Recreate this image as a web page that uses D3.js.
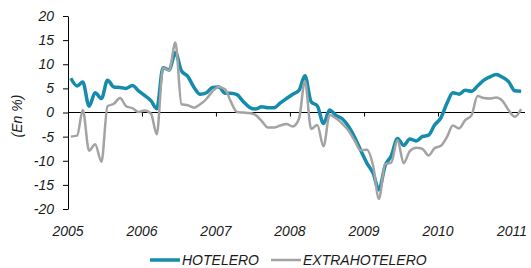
<!DOCTYPE html>
<html>
<head>
<meta charset="utf-8">
<script src="https://cdn.jsdelivr.net/npm/d3@7"></script>
<style>
  body { margin: 0; background: #fff; }
  svg text { font-family: "Liberation Sans", Arial, sans-serif; font-style: italic; fill: #1a1a1a; }
</style>
</head>
<body>
<div id="chart"></div>
<script>
// monthly series, Jan 2005 - Feb 2011
const startYear = 2005;
const hotelero = [
  7.1, 5.5, 6.3, 1.3, 4.1, 2.9, 6.7, 5.3, 5.2, 5.0, 5.6, 4.5,
  3.5, 2.4, 0.8, 9.3, 8.8, 12.4, 8.6, 7.5, 5.2, 3.8, 4.1, 5.2,
  5.3, 4.0, 4.0, 3.7, 2.3, 1.1, 0.7, 1.2, 1.0, 1.0, 2.0, 2.9,
  3.8, 4.6, 7.6, 2.2, 1.4, -2.3, 0.5, -0.6, -1.3, -2.8, -5.1, -7.8,
  -10.5, -12.6, -16.0, -11.0, -9.0, -5.4, -6.8, -5.5, -5.9, -5.0, -4.7, -2.6,
  -1.1, 2.0, 4.1, 3.8, 4.6, 4.4, 5.5, 6.7, 7.4, 7.9, 7.3, 6.4,
  4.5, 4.4
];
const extrahotelero = [
  -5.0, -4.8, 0.5, -7.9, -6.6, -10.2, 1.3, 1.8, 3.0, 1.3, 0.9, 0.1,
  0.4, -0.3, -4.5, 9.3, 8.7, 14.5, 1.7, 1.5, 1.0, 1.7, 2.8, 4.4,
  5.3, 4.8, 2.3, 0.1, 0.0, -0.1, -0.5, -1.8, -3.1, -3.1, -2.7, -2.4,
  -2.9, -1.3, 6.5, -3.4, -2.6, -7.0, -0.5, -1.2, -2.3, -3.7, -5.8, -7.8,
  -7.7, -11.1, -17.9, -10.7, -10.4, -5.7, -10.5, -8.0, -7.3, -7.5, -8.9, -7.4,
  -6.9, -5.0, -2.7, -3.3, -1.6, -0.6, 3.4, 3.0, 2.9, 3.1, 2.4, 0.5,
  -0.9, 0.7
];
const yTicks = [20, 15, 10, 5, 0, -5, -10, -15, -20];
const years = [2005, 2006, 2007, 2008, 2009, 2010, 2011];
const seriesNames = ['HOTELERO', 'EXTRAHOTELERO'];

const width = 531, height = 268;
const colTeal = '#158cac', colGrey = '#a3a3a3';

const svg = d3.select('#chart').append('svg')
  .attr('width', width)
  .attr('height', height);

const x = d3.scaleTime()
  .domain([new Date(2005, 0, 1), new Date(2011, 0, 1)])
  .range([68, 512]);
const y = d3.scaleLinear()
  .domain([-20, 20])
  .range([209, 16]);

const toPoints = arr => arr.map((v, i) => ({ date: new Date(startYear, i, 15), value: v }));

// y axis
const yAxis = svg.append('g')
  .attr('transform', 'translate(68,0)')
  .call(d3.axisLeft(y).tickValues(yTicks).tickSize(5).tickSizeOuter(0).tickPadding(9)
    .tickFormat(d => String(d)));
yAxis.select('.domain').attr('stroke', '#000');
yAxis.selectAll('.tick line').attr('stroke', '#000');
yAxis.selectAll('.tick text')
  .attr('font-size', 14)
  .attr('font-family', null)
  .attr('fill', '#1a1a1a');

// zero line with year ticks
svg.append('line')
  .attr('x1', 68).attr('x2', 525)
  .attr('y1', y(0)).attr('y2', y(0))
  .attr('stroke', '#000').attr('stroke-width', 1);
const xAxis = svg.append('g')
  .attr('transform', 'translate(0,' + y(0) + ')')
  .call(d3.axisBottom(x).tickValues(years.slice(1, -1).map(yr => new Date(yr, 0, 1)))
    .tickSize(4).tickSizeOuter(0).tickFormat(''));
xAxis.select('.domain').remove();
xAxis.selectAll('.tick line').attr('stroke', '#000');

// year labels
svg.selectAll('.year')
  .data(years)
  .enter()
  .append('text')
  .attr('class', 'year')
  .attr('x', d => x(new Date(d, 0, 1)))
  .attr('y', 236)
  .attr('text-anchor', 'middle')
  .attr('font-size', 14)
  .text(d => d);

// y label
svg.append('text')
  .attr('transform', 'translate(22,116) rotate(-90)')
  .attr('text-anchor', 'middle')
  .attr('font-size', 14)
  .text('(En %)');

// lines
const line = d3.line()
  .x(d => x(d.date))
  .y(d => y(d.value))
  .curve(d3.curveMonotoneX);

svg.append('path')
  .datum(toPoints(hotelero))
  .attr('fill', 'none')
  .attr('stroke', colTeal)
  .attr('stroke-width', 3.5)
  .attr('stroke-linejoin', 'round')
  .attr('d', line);

svg.append('path')
  .datum(toPoints(extrahotelero))
  .attr('fill', 'none')
  .attr('stroke', colGrey)
  .attr('stroke-width', 2.5)
  .attr('stroke-linejoin', 'round')
  .attr('d', line);

// legend
const legend = [
  { name: seriesNames[0], color: colTeal, w: 3.5, x: 150 },
  { name: seriesNames[1], color: colGrey, w: 2.5, x: 271 }
];
legend.forEach(l => {
  svg.append('line')
    .attr('x1', l.x).attr('x2', l.x + 30)
    .attr('y1', 260).attr('y2', 260)
    .attr('stroke', l.color).attr('stroke-width', l.w);
  svg.append('text')
    .attr('x', l.x + 32)
    .attr('y', 265)
    .attr('font-size', 14)
    .text(l.name);
});
</script>
</body>
</html>
